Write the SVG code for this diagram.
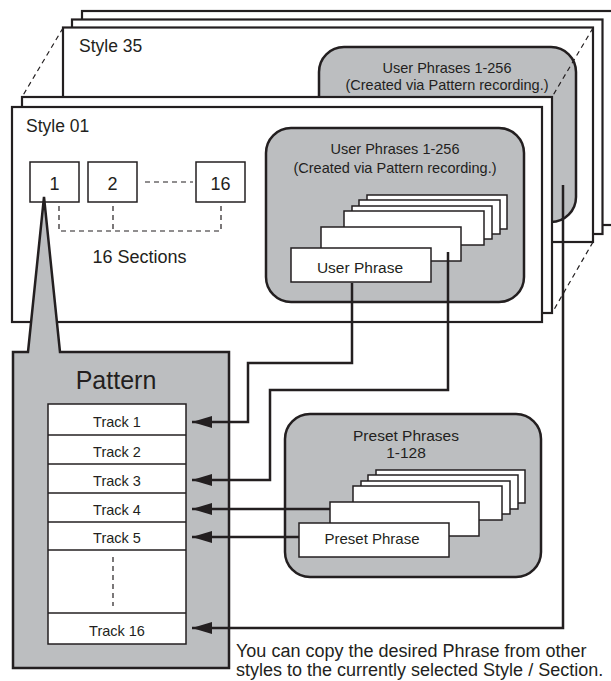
<svg xmlns="http://www.w3.org/2000/svg" width="611" height="681" viewBox="0 0 611 681">
<style>
.frame{fill:#fff;stroke:#231f20;stroke-width:2.2}
.gbox{fill:#bcbec0;stroke:#231f20;stroke-width:2.5}
.card{fill:#fff;stroke:#231f20;stroke-width:1.5}
.dash{fill:none;stroke:#231f20;stroke-width:1.2;stroke-dasharray:5 4}
.conn{fill:none;stroke:#231f20;stroke-width:2.5}
.row{stroke:#231f20;stroke-width:1.5}
text{font-family:"Liberation Sans",Arial,sans-serif;fill:#231f20}
.mid{text-anchor:middle}
</style>
<defs>
<marker id="arr" markerUnits="userSpaceOnUse" markerWidth="22" markerHeight="12" refX="20" refY="6" orient="auto">
<path d="M0,0 L20,6 L0,12 Z" fill="#231f20"/>
</marker>
</defs>

<g id="style35">
<rect class="frame" x="82" y="11" width="531" height="214"/>
<rect class="frame" x="72" y="19.5" width="530.5" height="214.5"/>
<rect class="frame" x="63" y="27.5" width="530" height="214.5"/>
<text x="79" y="52" font-size="17.5">Style 35</text>
<rect class="gbox" x="319" y="47" width="257" height="175" rx="25"/>
<text class="mid" x="447" y="73" font-size="14.5">User Phrases 1-256</text>
<text class="mid" x="447" y="90" font-size="14.5">(Created via Pattern recording.)</text>
</g>

<g id="perspective">
<line class="dash" x1="63" y1="28" x2="22" y2="97"/>
<line class="dash" x1="593" y1="28" x2="552" y2="97"/>
<line class="dash" x1="593" y1="242" x2="552" y2="313"/>
</g>

<g id="style01">
<rect class="frame" x="22" y="97" width="530" height="216"/>
<rect class="frame" x="12" y="107" width="530" height="215"/>
<text x="26" y="132" font-size="17.5">Style 01</text>
</g>

<g id="sections">
<rect class="card" x="30" y="162" width="49" height="40"/>
<rect class="card" x="88" y="162" width="49" height="40"/>
<rect class="card" x="196" y="162" width="49" height="40"/>
<text class="mid" x="54.5" y="190" font-size="18">1</text>
<text class="mid" x="112.5" y="190" font-size="18">2</text>
<text class="mid" x="220.5" y="190" font-size="18">16</text>
<line class="dash" x1="145" y1="182" x2="193" y2="182"/>
<path class="dash" d="M59,206 V231 H221 V206 M113,206 V231"/>
<text class="mid" x="139.5" y="263" font-size="18">16 Sections</text>
</g>

<g id="user-phrases">
<rect class="gbox" x="266" y="128" width="258" height="174" rx="25"/>
<text class="mid" x="395" y="154" font-size="14.5">User Phrases 1-256</text>
<text class="mid" x="395" y="173" font-size="14.5">(Created via Pattern recording.)</text>
<rect class="card" x="367" y="195" width="140" height="34"/>
<rect class="card" x="359" y="200" width="141" height="34"/>
<rect class="card" x="352" y="206" width="140" height="33"/>
<rect class="card" x="344" y="211" width="140" height="34"/>
<rect class="card" x="321" y="227" width="140" height="34"/>
<rect class="card" x="291" y="248" width="140" height="34"/>
<text class="mid" x="360" y="273" font-size="15.5">User Phrase</text>
</g>

<g id="pattern">
<path class="gbox" d="M13,352 H28 L44,197 L60,352 H229 V668 H13 Z"/>
<text class="mid" x="116" y="389" font-size="25">Pattern</text>
<rect class="card" x="48" y="404" width="138" height="240"/>
<line class="row" x1="48" y1="435" x2="186" y2="435"/>
<line class="row" x1="48" y1="464" x2="186" y2="464"/>
<line class="row" x1="48" y1="493" x2="186" y2="493"/>
<line class="row" x1="48" y1="522" x2="186" y2="522"/>
<line class="row" x1="48" y1="550" x2="186" y2="550"/>
<line class="row" x1="48" y1="613" x2="186" y2="613"/>
<line class="dash" x1="113" y1="557" x2="113" y2="606"/>
<text class="mid" x="117" y="427" font-size="14.5">Track 1</text>
<text class="mid" x="117" y="457" font-size="14.5">Track 2</text>
<text class="mid" x="117" y="486" font-size="14.5">Track 3</text>
<text class="mid" x="117" y="515" font-size="14.5">Track 4</text>
<text class="mid" x="117" y="543" font-size="14.5">Track 5</text>
<text class="mid" x="117" y="636" font-size="14.5">Track 16</text>
</g>

<g id="preset-phrases">
<rect class="gbox" x="285" y="414" width="256" height="163" rx="25"/>
<text class="mid" x="406" y="441" font-size="15.5">Preset Phrases</text>
<text class="mid" x="406" y="458" font-size="15.5">1-128</text>
<rect class="card" x="376" y="470" width="149" height="33"/>
<rect class="card" x="368" y="475" width="150" height="34"/>
<rect class="card" x="361" y="481" width="149" height="33"/>
<rect class="card" x="353" y="486" width="149" height="34"/>
<rect class="card" x="330" y="502" width="149" height="34"/>
<rect class="card" x="299" y="523" width="150" height="34"/>
<text class="mid" x="372" y="544" font-size="15">Preset Phrase</text>
</g>

<g id="connectors">
<path class="conn" d="M352,283 V363 H248 V422 H192" marker-end="url(#arr)"/>
<path class="conn" d="M448,252 V390 H270 V480 H192" marker-end="url(#arr)"/>
<path class="conn" d="M330,509 H192" marker-end="url(#arr)"/>
<path class="conn" d="M299,537 H192" marker-end="url(#arr)"/>
<path class="conn" d="M563,185 V628 H192" marker-end="url(#arr)"/>
</g>

<g id="note">
<text x="236" y="657" font-size="18">You can copy the desired Phrase from other</text>
<text x="236" y="676" font-size="18">styles to the currently selected Style / Section.</text>
</g>
</svg>
